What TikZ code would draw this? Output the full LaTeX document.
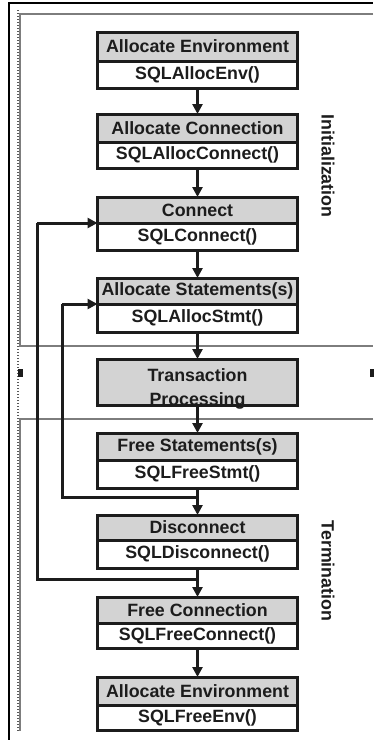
\documentclass[tikz,border=0pt]{standalone}
\usepackage{fontspec}
\setmainfont{Liberation Sans}
\usetikzlibrary{arrows.meta,calc}
\definecolor{hdrgray}{RGB}{211,211,211}
\definecolor{framegray}{RGB}{125,125,125}
\definecolor{inkc}{RGB}{28,28,28}
\tikzset{
  boxbase/.style={draw=inkc, line width=3pt, minimum width=200pt, inner sep=0pt, outer sep=0pt,
    font=\bfseries\fontsize{17.8}{17.8}\selectfont, text=inkc},
  hdr/.style={boxbase, fill=hdrgray},
  bdy/.style={boxbase, fill=white},
  txt/.style={inner sep=0pt, font=\bfseries\fontsize{17.8}{17.8}\selectfont, text=inkc},
  arr/.style={draw=inkc, line width=3pt, -{Triangle[length=10pt,width=10pt]}},
  plainline/.style={draw=inkc, line width=3pt},
  lab/.style={inner sep=0pt, font=\bfseries\fontsize{17.8}{17.8}\selectfont, text=inkc, rotate=-90},
  blackline/.style={draw=black, line width=1.6pt},
  frameline/.style={draw=framegray, line width=1.8pt},
  dotline/.style={draw=framegray!70!black, line width=1.3pt, dash pattern=on 1pt off 2pt},
}
\newcommand\sqlbox[6]{%
  \node[hdr, minimum height={#3-#2}] (#1h) at (197.5,{(#2+#3)/2}) {#5};
  \node[bdy, minimum height={#4-#3}] (#1b) at (197.5,{(#3+#4)/2}) {#6};
}
\begin{document}
\begin{tikzpicture}[x=1pt,y=-1pt]
\useasboundingbox (0,0) rectangle (373,740);
% frames
\draw[blackline] (9,740) -- (9,3) -- (373,3);
\draw[frameline] (373,14) -- (20,14) -- (20,346) -- (373,346);
\draw[frameline] (373,419) -- (20,419) -- (20,731);
\draw[dotline] (18,10) -- (18,731);
\fill[inkc] (17.5,369) rectangle (22.5,377);
\fill[inkc] (370,369) rectangle (374,377);
% boxes
\sqlbox{a}{32}{61}{88}{Allocate Environment}{SQLAllocEnv()}
\sqlbox{c}{114}{142}{168}{Allocate Connection}{SQLAllocConnect()}
\sqlbox{d}{197}{223}{250}{Connect}{SQLConnect()}
\sqlbox{s}{278}{304}{332}{Allocate Statements(s)}{SQLAllocStmt()}
\node[hdr, draw=none, minimum height=46pt] (tp) at (197.5,382) {};
\node[txt] (tp1) at (197.5,375) {Transaction};
\node[txt] (tp2) at (197.5,401) {Processing};
\draw[draw=inkc, line width=3pt] (tp.north west) rectangle (tp.south east);
\sqlbox{f}{433}{460}{488}{Free Statements(s)}{SQLFreeStmt()}
\sqlbox{x}{515}{540}{568}{Disconnect}{SQLDisconnect()}
\sqlbox{g}{597}{623}{648}{Free Connection}{SQLFreeConnect()}
\sqlbox{e}{677}{705}{730}{Allocate Environment}{SQLFreeEnv()}
% vertical arrows
\draw[arr] (ab) -- (ch);
\draw[arr] (cb) -- (dh);
\draw[arr] (db) -- (sh);
\draw[arr] (sb) -- (tp);
\draw[arr] (tp) -- (fh);
\draw[arr] (fb) -- (xh);
\draw[arr] (xb) -- (gh);
\draw[arr] (gb) -- (eh);
% loop-back connectors
\coordinate (j1) at ($(fb.south)!0.37!(xh.north)$);
\coordinate (j2) at ($(xb.south)!0.38!(gh.north)$);
\coordinate (o1) at (37,223);
\coordinate (o2) at (62,304);
\draw[plainline] (j2) -| (o1);
\draw[arr] (o1) -- (dh.south west);
\draw[plainline] (j1) -| (o2);
\draw[arr] (o2) -- (sh.south west);
% side labels
\node[lab] (ini) at (328,166) {Initialization};
\node[lab] (ter) at (328,571) {Termination};
\end{tikzpicture}
\end{document}
